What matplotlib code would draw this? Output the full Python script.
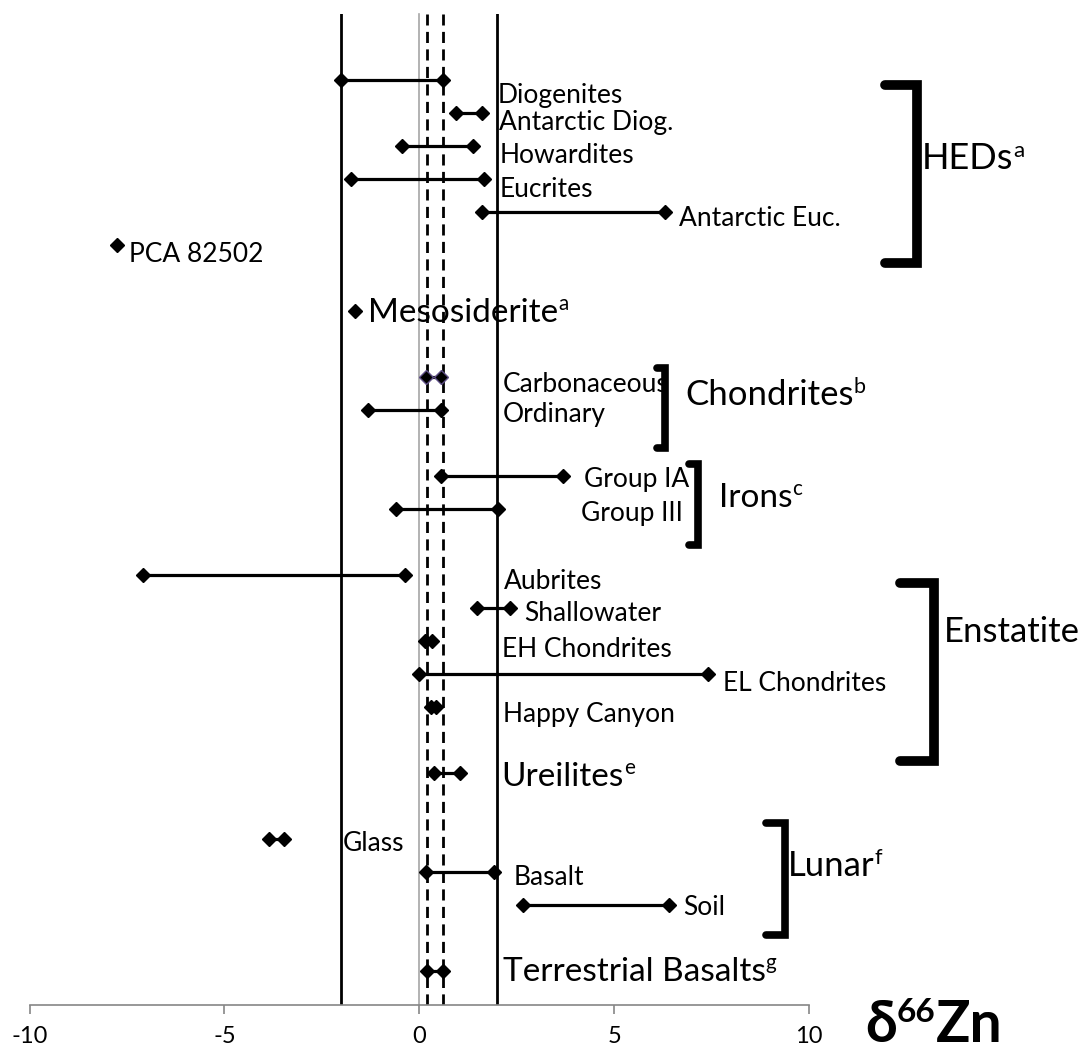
import numpy as np
import matplotlib
matplotlib.use('Agg')
import matplotlib.pyplot as plt
from matplotlib.lines import Line2D

plt.rcParams['font.family'] = ['Lato', 'DejaVu Sans']
plt.rcParams['axes.unicode_minus'] = False

# one row per sample group, counted from the top of the chart
names = ['Diogenites', 'Antarctic Diog.', 'Howardites', 'Eucrites', 'Antarctic Euc.',
         'PCA 82502', 'Mesosiderite', 'Carbonaceous', 'Ordinary', 'Group IA', 'Group III',
         'Aubrites', 'Shallowater', 'EH Chondrites', 'EL Chondrites', 'Happy Canyon',
         'Ureilites', 'Glass', 'Basalt', 'Soil', 'Terrestrial Basalts']
sups = ['', '', '', '', '', '', 'a', '', '', '', '', '', '', '', '', '', 'e', '', '', '', 'g']
rows = [0, 1, 2, 3, 4, 5, 7, 9, 10, 12, 13, 15, 16, 17, 18, 19, 21, 23, 24, 25, 27]
zn_low = [-2.0, 0.95, -0.45, -1.76, 1.62, -7.75, -1.65, 0.18, -1.32, 0.55, -0.6,
          -7.1, 1.47, 0.14, 0.0, 0.3, 0.37, -3.85, 0.18, 2.66, 0.2]
zn_high = [0.6, 1.6, 1.38, 1.67, 6.3, np.nan, np.nan, 0.55, 0.56, 3.7, 2.02,
           -0.37, 2.32, 0.32, 7.4, 0.43, 1.05, -3.47, 1.92, 6.42, 0.6]

# reference lines
solid_lines = [-2, 2]
dashed_lines = [0.2, 0.6]

# groups shown with a bracket on the right
groups = ['HEDs', 'Chondrites', 'Irons', 'Enstatite', 'Lunar']
group_sups = ['a', 'b', 'c', '', 'f']

xticks = [-10, -5, 0, 5, 10]

# label layout (left x in data units, baseline row)
lab_x = [2.01, 2.05, 2.05, 2.05, 6.66, -7.44, -1.32, 2.14, 2.14, 4.22, 4.16,
         2.17, 2.69, 2.11, 7.79, 2.16, 2.11, -1.97, 2.42, 6.77, 2.14]
lab_y = [0.69, 1.51, 2.51, 3.53, 4.41, 5.5, 7.34, 9.46, 10.36, 12.33, 13.35,
         15.41, 16.37, 17.46, 18.49, 19.43, 21.39, 23.35, 24.38, 25.29, 27.28]
big = {'Mesosiderite', 'Ureilites', 'Terrestrial Basalts'}

# brackets: arm end x, bar x, top row, bottom row, width; then label x, baseline row, size
br = [(11.94, 12.78, 0.15, 5.53, 7.0, 12.9, 2.69, 26),
      (6.09, 6.31, 8.72, 11.15, 5.5, 6.83, 9.85, 25),
      (6.91, 7.16, 11.63, 14.08, 5.5, 7.68, 12.93, 24),
      (12.33, 13.2, 15.24, 20.63, 7.0, 13.46, 17.01, 25),
      (8.9, 9.38, 22.5, 25.88, 5.5, 9.45, 24.11, 25)]

W, H = 1079, 1051
fig = plt.figure(figsize=(W / 100, H / 100), dpi=100)
ax = fig.add_axes([29.6 / W, (H - 1004.5) / H, (809 - 29.6) / W, (1004.5 - 14) / H])

for v in solid_lines:
    ax.axvline(v, color='black', lw=2.0, zorder=1)
for v in dashed_lines:
    ax.axvline(v, color='black', lw=2.0, dashes=(4, 2.3), zorder=1)

for i, n in enumerate(names):
    ec = '#5e4f86' if n == 'Carbonaceous' else 'black'
    xs = [zn_low[i]] if np.isnan(zn_high[i]) else [zn_low[i], zn_high[i]]
    ax.plot(xs, [rows[i]] * len(xs), '-D', color='black', lw=2.3, ms=7,
            mec=ec, mew=1, zorder=3)
    size = 24 if n in big else 19
    t = ax.text(lab_x[i], lab_y[i], n, fontsize=size, ha='left', va='baseline')
    if sups[i]:
        ax.annotate(sups[i], xy=(1, lab_y[i] - 0.36), xycoords=(t, 'data'),
                    fontsize=size * 0.62, ha='left', va='baseline', annotation_clip=False)

for (xe, xb, top, bot, lw, tx, ty, fs), g, s in zip(br, groups, group_sups):
    ax.add_line(Line2D([xe, xb, xb, xe], [top, top, bot, bot], color='black', lw=lw,
                       solid_capstyle='round', solid_joinstyle='miter', clip_on=False))
    t = ax.text(tx, ty, g, fontsize=fs, ha='left', va='baseline')
    if s:
        ax.annotate(s, xy=(1, ty - 0.36), xycoords=(t, 'data'), fontsize=fs * 0.62,
                    ha='left', va='baseline', annotation_clip=False)

ax.set_xlim(-10, 10)
ax.set_ylim(28, -2)
ax.set_xticks(xticks)
ax.set_yticks([])
ax.spines['top'].set_visible(False)
ax.spines['right'].set_visible(False)
ax.spines['left'].set_position(('data', 0))
ax.spines['left'].set_color('#a6a6a6')
ax.spines['left'].set_linewidth(1.2)
ax.spines['bottom'].set_color('#868686')
ax.spines['bottom'].set_linewidth(1.2)
ax.tick_params(axis='x', direction='out', length=6.3, width=1.2, color='#868686',
               labelsize=17, pad=9)

# axis title drawn in pieces so the 66 sits as a superscript
d = fig.text(865 / W, 1 - 1042 / H, 'δ', fontsize=41, fontweight='bold', ha='left', va='baseline')
s = ax.annotate('66', xy=(1, H - 1042 + 20), xycoords=(d, 'figure pixels'), fontsize=24,
                fontweight='bold', ha='left', va='baseline', annotation_clip=False)
ax.annotate('Zn', xy=(1, H - 1042), xycoords=(s, 'figure pixels'), fontsize=41,
            fontweight='bold', ha='left', va='baseline', annotation_clip=False)

fig.savefig('out.png', dpi=100)
